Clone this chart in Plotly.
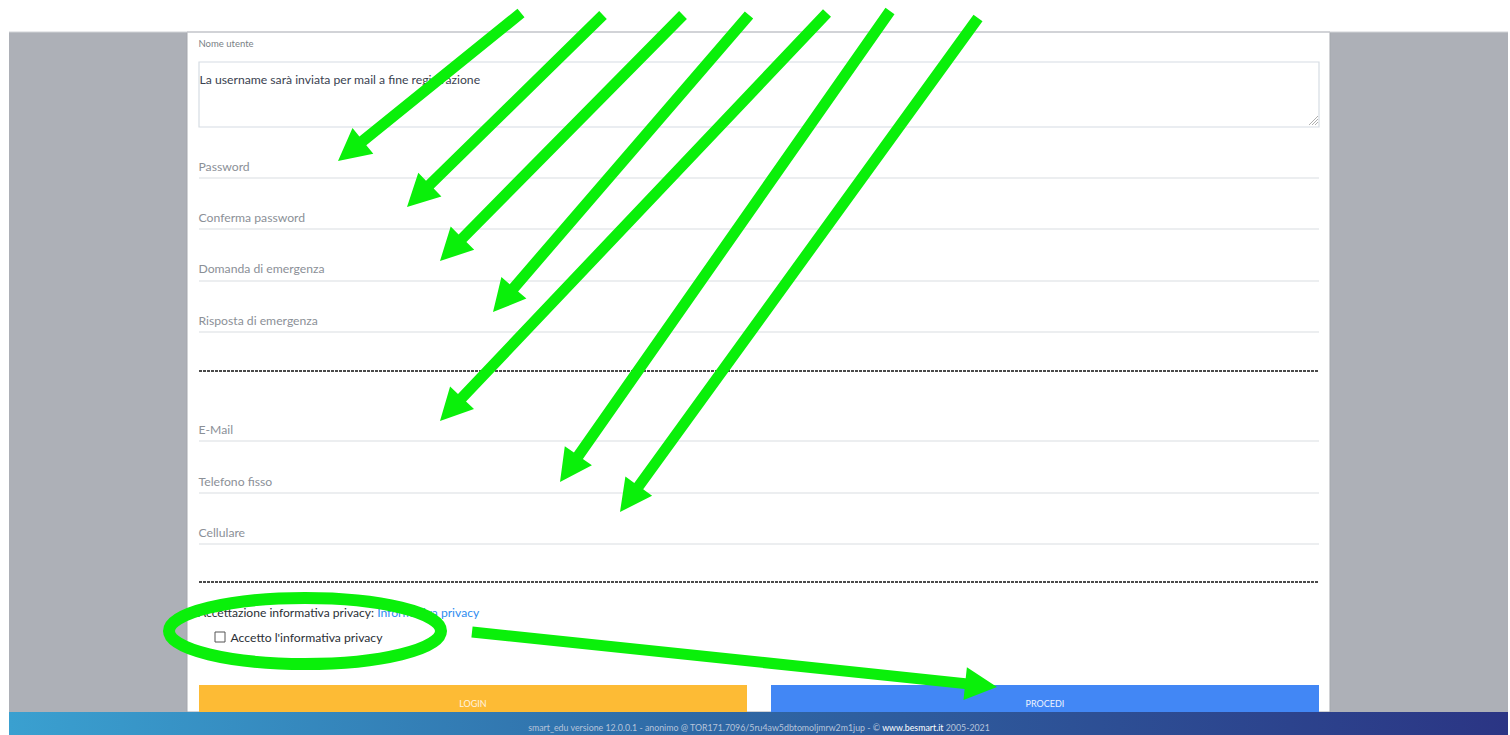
import plotly.graph_objects as go

W, H = 1510, 735
FONT = "Lato"
GREEN = "#0af00a"

# ---- data: form fields (label, label y, underline y) ----
field_labels = ["Password", "Conferma password", "Domanda di emergenza", "Risposta di emergenza",
                "E-Mail", "Telefono fisso", "Cellulare"]
field_label_y = [166, 217, 268, 320, 429, 481, 532]
field_line_y = [178, 229, 281, 332, 441, 493, 544]
separator_y = [371, 582]

# ---- data: arrows (tail -> tip) ----
arrow_tail_x = [521, 603, 683, 749, 827, 890, 978, 472]
arrow_tail_y = [13, 15, 15, 15, 13, 11, 18, 632]
arrow_tip_x = [338, 407, 440, 493, 440, 560, 620, 997]
arrow_tip_y = [161, 207, 261, 312, 421, 482, 512, 687]

# ---- data: highlight ellipse ----
ellipse_box = [169, 598, 441, 664]

# ---- texts ----
username_label = "Nome utente"
username_text = "La username sarà inviata per mail a fine registrazione"
privacy_text = "Accettazione informativa privacy: "
privacy_link = "Informativa privacy"
checkbox_text = "Accetto l'informativa privacy"
buttons = ["LOGIN", "PROCEDI"]
footer_pre = "smart_edu versione 12.0.0.1 - anonimo @ TOR171.7096/5ru4aw5dbtomoljmrw2m1jup - © "
footer_link = "www.besmart.it"
footer_post = " 2005-2021"

fig = go.Figure()
shapes = []

# page background pieces
shapes.append(dict(type="rect", x0=9, x1=1508, y0=32, y1=712, fillcolor="#adb0b7", line_width=0, layer="below"))
shapes.append(dict(type="rect", x0=187, x1=1330, y0=32, y1=712, fillcolor="#ffffff", line=dict(color="#a4a7ad", width=1), layer="below"))
shapes.append(dict(type="line", x0=9, x1=1508, y0=32, y1=32, line=dict(color="#d2d4d8", width=1.2), layer="below"))

# textarea
shapes.append(dict(type="rect", x0=199, x1=1319, y0=62, y1=127, fillcolor="#ffffff",
                   line=dict(color="#d6dce3", width=1.2), layer="below"))
for d in [3, 6, 9]:
    shapes.append(dict(type="line", x0=1318 - d, y0=125, x1=1318, y1=125 - d,
                       line=dict(color="#9a9a9a", width=0.8), layer="below"))

# field underlines
for y in field_line_y:
    shapes.append(dict(type="line", x0=199, x1=1319, y0=y, y1=y, line=dict(color="#d9dde2", width=1.2), layer="below"))
for y in separator_y:
    shapes.append(dict(type="line", x0=199, x1=1319, y0=y, y1=y, line=dict(color="#111111", width=1.6, dash="3px,1px"), layer="below"))

# checkbox
shapes.append(dict(type="rect", x0=215, x1=225, y0=632, y1=642, line=dict(color="#555555", width=1), fillcolor="#ffffff", layer="below"))

# buttons
shapes.append(dict(type="rect", x0=199, x1=747, y0=685, y1=712, fillcolor="#fdbb35", line_width=0, layer="below"))
shapes.append(dict(type="rect", x0=771, x1=1319, y0=685, y1=712, fillcolor="#4287f5", line_width=0, layer="below"))

# footer gradient
fig.add_trace(go.Scatter(x=[9, 1508, 1508, 9, 9], y=[712, 712, 735, 735, 712], mode="lines",
                         line=dict(width=0), fill="toself",
                         fillgradient=dict(type="horizontal",
                                           colorscale=[[0, "#3aa0d0"], [0.45, "#2f6aa6"], [1, "#2b3584"]]),
                         hoverinfo="skip", showlegend=False))

def text(x, y, s, size, color, pos="middle right", family=FONT):
    fig.add_trace(go.Scatter(x=[x], y=[y], mode="text", text=[s], textposition=pos,
                             textfont=dict(family=family, size=size, color=color),
                             hoverinfo="skip", showlegend=False))

text(198.5, 45, username_label, 9.5, "#7a7f86")
text(199.5, 81, username_text, 12.2, "#3a4250")
for lab, y in zip(field_labels, field_label_y):
    text(198.5, y + 1.5, lab, 12.2, "#8b9097")
text(198, 614, privacy_text + "<span style='color:#2d8cf0'>" + privacy_link + "</span>", 12.1, "#2b2f36")
text(230.5, 639, checkbox_text, 12.2, "#2b2f36")
text(473, 705, buttons[0], 9, "#fff4e0", pos="middle center")
text(1045, 705, buttons[1], 9, "#eef3ff", pos="middle center")
text(759, 729, footer_pre + "<span style='color:#ffffff'>" + footer_link + "</span>" + footer_post,
     8.8, "#b7c4da", pos="middle center")

# ellipse
shapes.append(dict(type="circle", x0=ellipse_box[0], y0=ellipse_box[1], x1=ellipse_box[2], y1=ellipse_box[3],
                   line=dict(color=GREEN, width=12), layer="above"))

# arrows as polygons
HEAD_L, HEAD_W, SHAFT_W = 32, 16.5, 5.5
for tx, ty, px, py in zip(arrow_tail_x, arrow_tail_y, arrow_tip_x, arrow_tip_y):
    dx, dy = px - tx, py - ty
    n = (dx * dx + dy * dy) ** 0.5
    ux, uy = dx / n, dy / n
    nx, ny = -uy, ux
    bx, by = px - ux * HEAD_L, py - uy * HEAD_L
    pts = [
        (tx + nx * SHAFT_W, ty + ny * SHAFT_W),
        (bx + nx * SHAFT_W, by + ny * SHAFT_W),
        (bx + nx * HEAD_W, by + ny * HEAD_W),
        (px, py),
        (bx - nx * HEAD_W, by - ny * HEAD_W),
        (bx - nx * SHAFT_W, by - ny * SHAFT_W),
        (tx - nx * SHAFT_W, ty - ny * SHAFT_W),
    ]
    path = "M " + " L ".join(f"{x:.1f},{y:.1f}" for x, y in pts) + " Z"
    shapes.append(dict(type="path", path=path, fillcolor=GREEN, line_width=0, layer="above"))

fig.update_layout(
    width=W, height=H, margin=dict(l=0, r=0, t=0, b=0),
    paper_bgcolor="#ffffff", plot_bgcolor="#ffffff",
    xaxis=dict(range=[0, W], visible=False, fixedrange=True),
    yaxis=dict(range=[H, 0], visible=False, fixedrange=True),
    shapes=shapes, showlegend=False,
)

fig.write_html("out.html", config={"displayModeBar": False},
               post_script="document.body.style.margin='0';document.body.style.overflow='hidden';")
